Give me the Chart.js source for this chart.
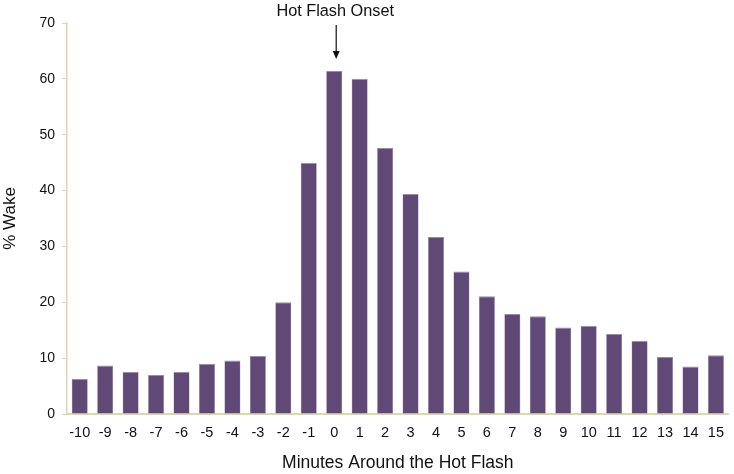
<!DOCTYPE html>
<html>
<head>
<meta charset="utf-8">
<script src="https://cdn.jsdelivr.net/npm/chart.js@4/dist/chart.umd.min.js"></script>
<style>
  html, body { margin: 0; padding: 0; background: #fff; }
  #wrap { width: 734px; height: 474px; }
</style>
</head>
<body>
<div id="wrap"><canvas id="c"></canvas></div>
<script>
// minutes relative to hot flash onset
const minutes = ['-10', '-9', '-8', '-7', '-6', '-5', '-4', '-3', '-2', '-1', '0',
  '1', '2', '3', '4', '5', '6', '7', '8', '9', '10', '11', '12', '13', '14', '15'];
// % of epochs scored as wake
const wakePct = [6.3, 8.7, 7.5, 7.0, 7.5, 9.0, 9.6, 10.4, 20.0, 45.0, 61.4,
  60.0, 47.6, 39.4, 31.7, 25.5, 21.1, 17.9, 17.5, 15.5, 15.8, 14.3, 13.1, 10.2, 8.5, 10.5];
const yTicks = [0, 10, 20, 30, 40, 50, 60, 70];
const onsetLabel = 'Hot Flash Onset';
const onsetCategory = '0';

const FONT = '"Liberation Sans", Arial, sans-serif';
const AXIS = '#dcd7b6';
const BAR = '#604877';

// arrow + label above the onset bar
const onsetMarker = {
  id: 'onsetMarker',
  afterDraw(chart) {
    const { ctx, scales: { x } } = chart;
    const px = x.getPixelForValue(minutes.indexOf(onsetCategory)) + 2;
    ctx.save();
    ctx.fillStyle = '#111';
    ctx.strokeStyle = '#111';
    ctx.font = '16.3px ' + FONT;
    ctx.textAlign = 'center';
    ctx.textBaseline = 'middle';
    ctx.fillText(onsetLabel, px - 1, 12);
    ctx.lineWidth = 1.2;
    ctx.beginPath();
    ctx.moveTo(px, 25);
    ctx.lineTo(px, 53);
    ctx.stroke();
    ctx.beginPath();
    ctx.moveTo(px - 3.5, 51);
    ctx.lineTo(px + 3.5, 51);
    ctx.lineTo(px, 59);
    ctx.closePath();
    ctx.fill();
    ctx.restore();
  }
};

new Chart(document.getElementById('c'), {
  type: 'bar',
  data: {
    labels: minutes,
    datasets: [{
      data: wakePct,
      backgroundColor: BAR,
      borderColor: '#9a8aae',
      borderWidth: { top: 1, left: 0.5, right: 0.5, bottom: 0 },
      categoryPercentage: 1,
      barPercentage: 0.63
    }]
  },
  options: {
    responsive: true,
    maintainAspectRatio: false,
    animation: false,
    layout: { padding: { top: 23, right: 0, left: 0, bottom: 0 } },
    plugins: {
      legend: { display: false },
      tooltip: { enabled: false }
    },
    scales: {
      x: {
        grid: { display: false, drawTicks: false },
        border: { display: true, color: AXIS, width: 2 },
        ticks: {
          color: '#111',
          padding: 10,
          maxRotation: 0,
          autoSkip: false,
          font: { family: FONT, size: 14.5 }
        },
        title: {
          display: true,
          text: 'Minutes Around the Hot Flash',
          color: '#111',
          font: { family: FONT, size: 17.5 },
          padding: { top: 6, bottom: 0 }
        },
        afterFit: (scale) => { scale.height = 60; }
      },
      y: {
        min: 0,
        max: 70,
        afterBuildTicks: (scale) => { scale.ticks = yTicks.map(v => ({ value: v })); },
        grid: { display: true, drawOnChartArea: false, drawTicks: true, tickLength: 5, color: AXIS },
        border: { display: true, color: AXIS, width: 1.5 },
        ticks: {
          color: '#111',
          padding: 7,
          font: { family: FONT, size: 14 }
        },
        title: {
          display: true,
          text: '% Wake',
          color: '#111',
          font: { family: FONT, size: 17 },
          padding: { top: 0, bottom: 8 }
        },
        afterFit: (scale) => { scale.width = 67; }
      }
    }
  },
  plugins: [onsetMarker]
});
</script>
</body>
</html>
